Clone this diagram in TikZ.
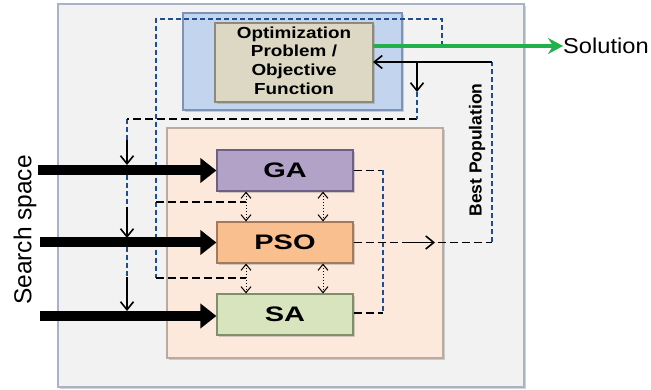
\documentclass[tikz,border=0pt]{standalone}
\usepackage{fontspec}
\usepackage{graphicx}
\setmainfont{Liberation Sans}
\usetikzlibrary{arrows.meta,shadows}
\definecolor{outerfill}{HTML}{F2F2F2}
\definecolor{outerdraw}{HTML}{A9B3C6}
\definecolor{bluefill}{HTML}{C3D4EE}
\definecolor{bluedraw}{HTML}{7D93B6}
\definecolor{tanfill}{HTML}{DDD8C3}
\definecolor{tandraw}{HTML}{8E8A7A}
\definecolor{peachfill}{HTML}{FCE9DB}
\definecolor{peachdraw}{HTML}{B9ABA0}
\definecolor{gafill}{HTML}{B3A2C8}
\definecolor{gadraw}{HTML}{6E5F86}
\definecolor{psofill}{HTML}{F9BF8F}
\definecolor{psodraw}{HTML}{A47A58}
\definecolor{safill}{HTML}{D7E4BD}
\definecolor{sadraw}{HTML}{7F8F6A}
\definecolor{solgreen}{HTML}{22B04B}
\definecolor{dblue}{HTML}{1F4E8C}
\tikzset{
  box/.style={rectangle, inner sep=0pt, line width=1.2pt},
  shad/.style={drop shadow={shadow xshift=2pt, shadow yshift=-2pt, opacity=0.35}},
  algo/.style={box, shad, minimum width=136pt, minimum height=41pt,
    font=\bfseries\fontsize{21}{21}\selectfont},
  thick arrow/.style={line width=10pt, -{Triangle[length=16pt,width=24pt]}},
  bdash/.style={dash pattern=on 8pt off 4pt, line width=1.8pt, black},
  bluedash/.style={dash pattern=on 5pt off 3pt, line width=1.8pt, dblue},
  sarrow/.style={line width=1.6pt, -{Straight Barb[length=8pt,width=13pt]}},
  dotarrow/.style={dash pattern=on 1.5pt off 1.5pt, line width=1pt,
    {Straight Barb[length=6pt,width=10pt]}-{Straight Barb[length=6pt,width=10pt]}}
}
\begin{document}
\begin{tikzpicture}[x=1pt,y=-1pt]
\useasboundingbox (0,0) rectangle (651,390);
% containers
\node[box, shad, fill=outerfill, draw=outerdraw, line width=2.5pt,
  minimum width=466pt, minimum height=383pt] (outer) at (291,195.5) {};
\node[box, shad, fill=bluefill, draw=bluedraw, line width=2pt, minimum width=219pt, minimum height=97pt] (blue) at (292.5,61.5) {};
\node[box, shad, fill=tanfill, draw=tandraw, minimum width=158pt, minimum height=79pt,
  font=\bfseries\fontsize{16}{18.7}\selectfont] (obj) at (294,62.5)
  {\scalebox{1.18}[1]{\begin{tabular}{@{}c@{}}Optimization\\Problem /\\Objective\\Function\end{tabular}}};
\node[box, shad, fill=peachfill, draw=peachdraw, line width=1.5pt, minimum width=276pt, minimum height=230pt] (peach) at (305,243) {};
% algorithms
\node[algo, fill=gafill, draw=gadraw] (ga) at (285,170.5) {\scalebox{1.38}[1]{GA}};
\node[algo, fill=psofill, draw=psodraw] (pso) at (285,242.5) {\scalebox{1.38}[1]{PSO}};
\node[algo, fill=safill, draw=sadraw] (sa) at (285,314.5) {\scalebox{1.38}[1]{SA}};
% texts
\node[rotate=90, font=\fontsize{24.5}{24.5}\selectfont] (search) at (25,230) {Search space};
\node[rotate=90, font=\bfseries\fontsize{17.5}{17.5}\selectfont] (best) at (477,150) {Best Population};
\node[anchor=west, inner sep=0pt, font=\fontsize{21.5}{21.5}\selectfont] (sol) at (563,46) {\scalebox{1.1}[1]{Solution}};
% coordinates
\coordinate (gin) at (38,170.5);
\coordinate (pin) at (40,242.5);
\coordinate (sin) at (40,316);
\coordinate (gout) at (373,46);
\coordinate (fbr) at (492,62);
\coordinate (fbl) at (373,62);
\coordinate (fbd) at (417,62);
\coordinate (fbd2) at (417,92);
\coordinate (fbc) at (417,119);
\coordinate (lc) at (127,119);
\coordinate (lb) at (127,316);
\coordinate (br) at (492,242.5);
\coordinate (tr1) at (442,46);
\coordinate (tr2) at (442,19);
\coordinate (tl) at (156,19);
\coordinate (tl2) at (156,202);
\coordinate (tl3) at (156,278);
\coordinate (d1) at (246,202);
\coordinate (d2) at (246,278);
\coordinate (rg) at (383,170.5);
\coordinate (rs) at (383,313);
% blue dashed loops
\draw[bluedash] (tr1) -- (tr2) -- (tl) -- (tl3);
\draw[bdash] (tl2) -- (d1);
\draw[bdash] (tl3) -- (d2);
\draw[bluedash] (lc) -- (lb);
\draw[bdash] (fbc) -- (lc);
\draw[bluedash] (fbd2) -- (fbc);
% left downward arrows
\draw[sarrow] (127,140) -- (127,165);
\draw[sarrow] (127,207) -- (127,238);
\draw[sarrow] (127,277) -- (127,311);
% thick input arrows
\draw[thick arrow] (gin) -- (ga.west);
\draw[thick arrow] (pin) -- (pso.west);
\draw[thick arrow] (sin) -- (sa.west |- sin);
% double dotted arrows
\draw[dotarrow] (ga.south -| d1) -- (pso.north -| d1);
\draw[dotarrow] (pso.south -| d1) -- (sa.north -| d1);
\draw[dotarrow] (ga.south -| 323,0) -- (pso.north -| 323,0);
\draw[dotarrow] (pso.south -| 323,0) -- (sa.north -| 323,0);
% right side
\draw[bdash] (ga.east) -- (rg);
\draw[bdash] (sa.east |- rs) -- (rs);
\draw[bluedash] (rg) -- (rs);
\draw[bdash] (pso.east) -- (br);
\draw[sarrow] (404,242.5) -- (435,242.5);
\draw[bluedash] (br) -- (fbr);
\draw[sarrow] (fbr) -- (fbl);
\draw[sarrow] (fbd) -- (fbd2);
% solution
\draw[solgreen, line width=4pt, -{Stealth[length=15pt,width=16pt,inset=5pt]}] (gout) -- (sol.west);
\end{tikzpicture}
\end{document}
